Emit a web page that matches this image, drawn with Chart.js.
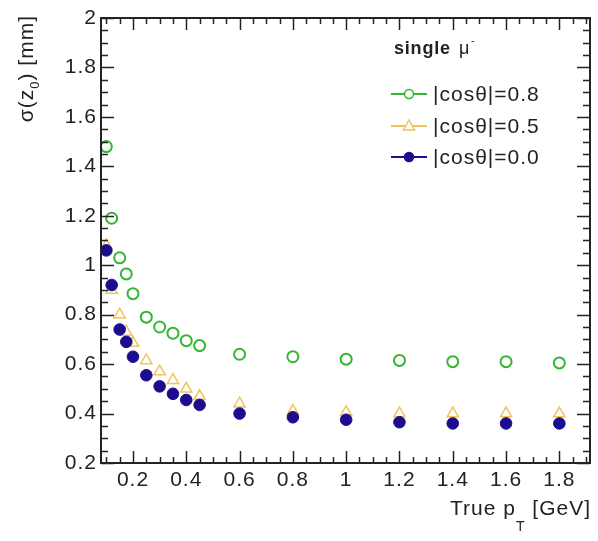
<!DOCTYPE html>
<html>
<head>
<meta charset="utf-8">
<script src="https://cdn.jsdelivr.net/npm/chart.js@4/dist/chart.umd.min.js"></script>
<style>
  html, body { margin: 0; padding: 0; background: #fff; }
  #wrap { width: 598px; height: 541px; }
</style>
</head>
<body>
<div id="wrap"><canvas id="myChart" width="598" height="541"></canvas></div>
<script>
// true pT values [GeV]
const pT = [0.1, 0.12, 0.15, 0.175, 0.2, 0.25, 0.3, 0.35, 0.4, 0.45, 0.6, 0.8, 1.0, 1.2, 1.4, 1.6, 1.8];

// sigma(z0) [mm] for each |cos theta|
const cos08 = [1.48, 1.19, 1.03, 0.965, 0.885, 0.79, 0.75, 0.725, 0.695, 0.675, 0.64, 0.63, 0.62, 0.615, 0.61, 0.61, 0.605];
const cos05 = [1.08, 0.90, 0.80, 0.73, 0.685, 0.615, 0.57, 0.535, 0.50, 0.47, 0.44, 0.41, 0.405, 0.40, 0.40, 0.40, 0.40];
const cos00 = [1.06, 0.92, 0.74, 0.69, 0.63, 0.555, 0.51, 0.48, 0.455, 0.435, 0.40, 0.385, 0.375, 0.365, 0.36, 0.36, 0.36];

const seriesLabels = ["|cosθ|=0.8", "|cosθ|=0.5", "|cosθ|=0.0"];

const xTicks = [0.2, 0.4, 0.6, 0.8, 1, 1.2, 1.4, 1.6, 1.8];
const yTicks = [0.2, 0.4, 0.6, 0.8, 1, 1.2, 1.4, 1.6, 1.8, 2];

const GREEN = "#33b633";
const YELLOW = "#f2c35a";
const BLUE = "#1d0d8e";
const FONT = "'Liberation Sans', Arial, sans-serif";

const toPoints = (ys) => pT.map((x, i) => ({ x: x, y: ys[i] }));

// ROOT style frame with inward ticks on all four sides
const frameTicks = {
  id: "frameTicks",
  beforeDraw(chart) {
    chart.ctx.letterSpacing = "1px";
  },
  afterDraw(chart) {
    const { ctx, chartArea: a, scales } = chart;
    const xs = scales.x, ys = scales.y;
    ctx.save();
    ctx.strokeStyle = "#222";
    ctx.lineWidth = 1.5;
    ctx.beginPath();
    for (let v = 0.1; v <= 1.9 + 1e-9; v += 0.05) {
      const major = Math.abs(v / 0.2 - Math.round(v / 0.2)) < 1e-6;
      const len = major ? 12 : 6;
      const px = Math.round(xs.getPixelForValue(v)) + 0.5;
      ctx.moveTo(px, a.bottom); ctx.lineTo(px, a.bottom - len);
      ctx.moveTo(px, a.top); ctx.lineTo(px, a.top + len);
    }
    for (let v = 0.2; v <= 2 + 1e-9; v += 0.05) {
      const major = Math.abs(v / 0.2 - Math.round(v / 0.2)) < 1e-6;
      const len = major ? 13 : 7;
      const py = Math.round(ys.getPixelForValue(v)) + 0.5;
      ctx.moveTo(a.left, py); ctx.lineTo(a.left + len, py);
      ctx.moveTo(a.right, py); ctx.lineTo(a.right - len, py);
    }
    ctx.stroke();
    ctx.lineWidth = 2;
    ctx.strokeRect(a.left, a.top, a.right - a.left, a.bottom - a.top);

    // axis titles
    ctx.fillStyle = "#222";
    ctx.textBaseline = "alphabetic";
    ctx.letterSpacing = "1px";
    const t1 = "True p", t2 = "T", t3 = " [GeV]";
    ctx.font = "21px " + FONT;
    const w3 = ctx.measureText(t3).width;
    ctx.font = "14px " + FONT;
    const w2 = ctx.measureText(t2).width;
    ctx.font = "21px " + FONT;
    const w1 = ctx.measureText(t1).width;
    const xr = a.right + 1;
    ctx.textAlign = "left";
    ctx.fillText(t3, xr - w3, 515);
    ctx.font = "14px " + FONT;
    ctx.fillText(t2, xr - w3 - w2, 531);
    ctx.font = "21px " + FONT;
    ctx.fillText(t1, xr - w3 - w2 - w1, 515);

    // y title, rotated
    ctx.save();
    ctx.translate(33, 15);
    ctx.rotate(-Math.PI / 2);
    ctx.textAlign = "right";
    ctx.font = "21px " + FONT;
    const s3 = ") [mm]";
    const sw3 = ctx.measureText(s3).width;
    ctx.fillText(s3, 0, 0);
    ctx.font = "13px " + FONT;
    const sw2 = ctx.measureText("0").width;
    ctx.fillText("0", -sw3, 6);
    ctx.font = "21px " + FONT;
    ctx.fillText("σ(z", -sw3 - sw2, 0);
    ctx.restore();

    // legend
    ctx.textAlign = "left";
    ctx.font = "bold 18px " + FONT;
    ctx.letterSpacing = "0.8px";
    ctx.fillText("single", 394, 54);
    ctx.font = "18px " + FONT;
    ctx.fillText("μ", 459, 54);
    ctx.font = "11px " + FONT;
    ctx.fillText("-", 471, 44);

    const rows = [94, 126, 157];
    chart.data.datasets.forEach((ds, i) => {
      const y = rows[i];
      ctx.strokeStyle = ds.borderColor;
      ctx.lineWidth = 2;
      ctx.beginPath();
      ctx.moveTo(391, y); ctx.lineTo(427, y);
      ctx.stroke();
      ctx.fillStyle = "#fff";
      ctx.lineWidth = 1.5;
      ctx.beginPath();
      if (ds.pointStyle === "triangle") {
        ctx.moveTo(409, y - 6); ctx.lineTo(414.5, y + 4); ctx.lineTo(403.5, y + 4); ctx.closePath();
        ctx.fill(); ctx.stroke();
      } else {
        ctx.arc(409, y, 4.5, 0, Math.PI * 2);
        if (ds.backgroundColor !== "rgba(0,0,0,0)") ctx.fillStyle = ds.backgroundColor;
        ctx.fill(); ctx.stroke();
      }
      ctx.fillStyle = "#222";
      ctx.font = "21px " + FONT;
      ctx.letterSpacing = "1px";
      ctx.textBaseline = "middle";
      ctx.fillText(ds.label, 433, y + 1);
    });
    ctx.restore();
  }
};

const data = {
  datasets: [
    {
      label: seriesLabels[0],
      data: toPoints(cos08),
      borderColor: GREEN,
      backgroundColor: "rgba(0,0,0,0)",
      pointStyle: "circle",
      pointRadius: 5.5,
      pointBorderWidth: 2,
      order: 3
    },
    {
      label: seriesLabels[1],
      data: toPoints(cos05),
      borderColor: YELLOW,
      backgroundColor: "rgba(0,0,0,0)",
      pointStyle: "triangle",
      pointRadius: 6.5,
      pointBorderWidth: 1.5,
      order: 2
    },
    {
      label: seriesLabels[2],
      data: toPoints(cos00),
      borderColor: BLUE,
      backgroundColor: BLUE,
      pointStyle: "circle",
      pointRadius: 5.8,
      pointBorderWidth: 1,
      order: 1
    }
  ]
};

const config = {
  type: "scatter",
  data: data,
  options: {
    responsive: false,
    animation: false,
    layout: { padding: { top: 18, right: 6, left: 0, bottom: 0 } },
    plugins: { legend: { display: false }, tooltip: { enabled: false } },
    scales: {
      x: {
        type: "linear",
        min: 0.08,
        max: 1.915,
        grid: { display: false, drawTicks: false },
        border: { display: false },
        afterBuildTicks: (s) => { s.ticks = xTicks.map(v => ({ value: v })); },
        afterFit: (s) => { s.height = 78; },
        ticks: {
          padding: 5,
          maxRotation: 0,
          autoSkip: false,
          color: "#222",
          font: { family: FONT, size: 21 },
          callback: (v) => String(Math.round(v * 10) / 10)
        }
      },
      y: {
        type: "linear",
        min: 0.2,
        max: 2,
        grid: { display: false, drawTicks: false },
        border: { display: false },
        afterBuildTicks: (s) => { s.ticks = yTicks.map(v => ({ value: v })); },
        afterFit: (s) => { s.width = 101; },
        ticks: {
          padding: 4,
          autoSkip: false,
          color: "#222",
          font: { family: FONT, size: 21 },
          callback: (v) => String(Math.round(v * 10) / 10)
        }
      }
    }
  },
  plugins: [frameTicks]
};

new Chart(document.getElementById("myChart"), config);
</script>
</body>
</html>
